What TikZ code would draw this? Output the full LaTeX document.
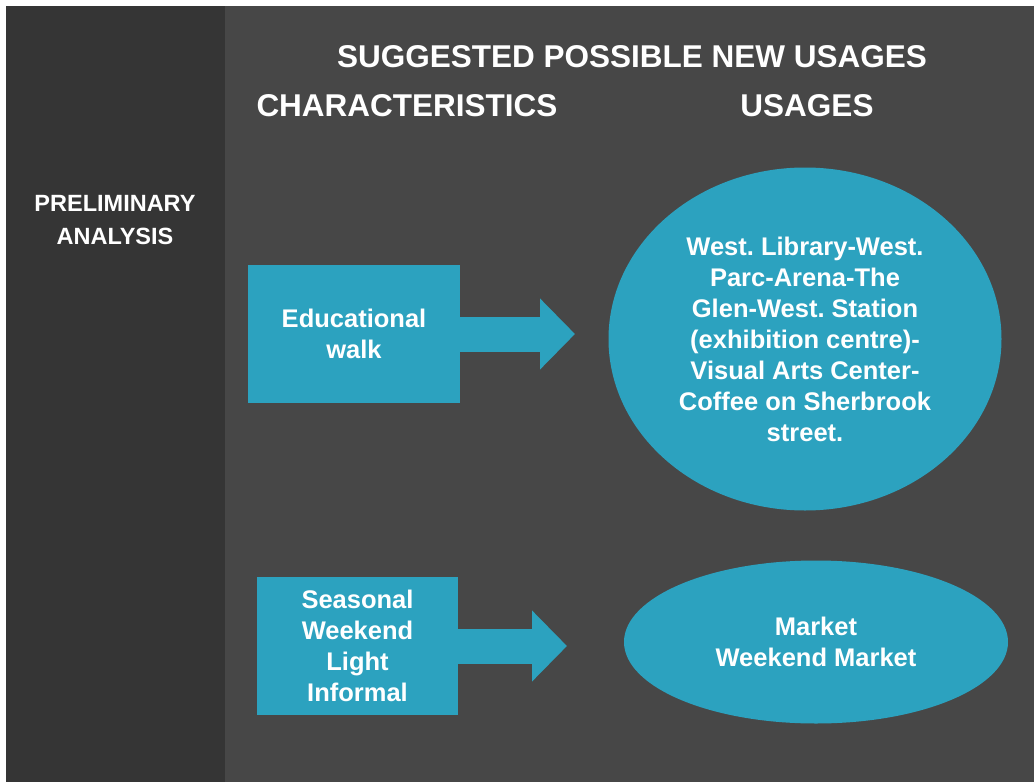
\documentclass[tikz,border=0pt]{standalone}
\usepackage{fontspec}
\setmainfont{Liberation Sans}
\usetikzlibrary{arrows.meta,shapes.geometric}
\frenchspacing

\definecolor{sidegrey}{HTML}{353535}
\definecolor{maingrey}{HTML}{474747}
\definecolor{teal}{HTML}{2CA2BF}

\begin{document}
\begin{tikzpicture}[x=1pt,y=-1pt,
    heading/.style={text=white,font=\fontsize{31.5}{36}\selectfont\bfseries,inner sep=0pt},
    charbox/.style={fill=teal,text=white,align=center,inner sep=0pt,
        font=\fontsize{25.5}{31}\selectfont\bfseries},
    useoval/.style={ellipse,fill=teal,text=white,align=center,inner sep=0pt,
        font=\fontsize{25.5}{31}\selectfont\bfseries},
    toward/.style={teal,line width=35pt,-{Triangle[length=35pt,width=69pt]}}]

    \useasboundingbox[fill=white] (0,0) rectangle (1034,782);
    \fill[sidegrey] (6,6) rectangle (225,782); % left band
    \fill[maingrey] (225,6) rectangle (1034,782); % main area

    \node[heading] (title) at (632,57) {SUGGESTED POSSIBLE NEW USAGES};
    \node[heading] (charHead) at (407,106) {CHARACTERISTICS};
    \node[heading] (useHead) at (807,106) {USAGES};
    \node[text=white,align=center,font=\fontsize{23.5}{33}\selectfont\bfseries]
        (prelim) at (115,220) {PRELIMINARY\\ANALYSIS};

    % first row
    \node[charbox,minimum width=212pt,minimum height=138pt] (eduBox) at (354,334)
        {Educational\\walk};
    \node[useoval,minimum width=393pt,minimum height=343pt] (eduUse) at (805,339)
        {West. Library-West.\\Parc-Arena-The\\Glen-West. Station\\(exhibition centre)-\\Visual Arts Center-\\Coffee on Sherbrook\\street.};
    \coordinate (eduTip) at (575,334);
    \draw[toward] (eduBox.east) -- (eduTip);

    % second row
    \node[charbox,minimum width=201pt,minimum height=138pt] (seasonBox) at (357.5,646)
        {Seasonal\\Weekend\\Light\\Informal};
    \node[useoval,minimum width=384pt,minimum height=163pt] (marketUse) at (816,642)
        {Market\\Weekend Market};
    \coordinate (seasonTip) at (567,646);
    \draw[toward] (seasonBox.east) -- (seasonTip);
\end{tikzpicture}
\end{document}
